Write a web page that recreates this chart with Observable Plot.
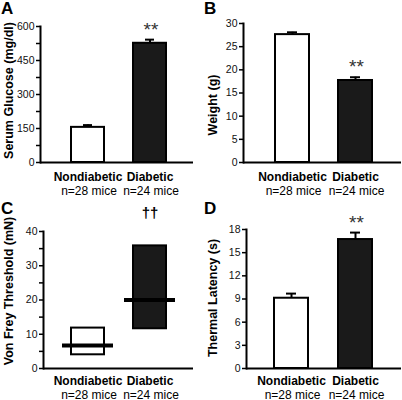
<!DOCTYPE html>
<html><head><meta charset="utf-8">
<script src="https://cdn.jsdelivr.net/npm/d3@7"></script>
<script src="https://cdn.jsdelivr.net/npm/@observablehq/plot@0.6"></script>
<style>
body{margin:0;background:#fff;}
#root{position:relative;width:402px;height:400px;font-family:"Liberation Sans",Arial,sans-serif;overflow:hidden;}
.panel{position:absolute;}
.letter{position:absolute;font-weight:bold;font-size:17px;line-height:17px;color:#000;}
</style></head><body><div id="root"></div>
<script>
// ---- data ----
const groups = ["Nondiabetic", "Diabetic"];
const groupN = ["n=28 mice", "n=24 mice"];
const glucoseMean = [155, 526];
const glucoseSem = [10, 16];
const glucoseSig = ["", "**"];
const weightMean = [27.6, 17.7];
const weightSem = [0.5, 0.7];
const weightSig = ["", "**"];
const vonFreyLow = [4.0, 11.6];
const vonFreyHigh = [11.8, 35.8];
const vonFreyMedian = [6.7, 20.0];
const vonFreySig = ["", "††"];
const latencyMean = [9.1, 16.7];
const latencySem = [0.6, 0.9];
const latencySig = ["", "**"];
const ticksA = [0, 150, 300, 450, 600];
const minorA = [75, 225, 375, 525];
const ticksB = [0, 5, 10, 15, 20, 25, 30];
const ticksC = [0, 10, 20, 30, 40];
const minorC = [5, 15, 25, 35];
const ticksD = [0, 3, 6, 9, 12, 15, 18];

const FONT = "Liberation Sans, Arial, sans-serif";
const fills = ["#ffffff", "#1a1a1a"];
const root = document.getElementById("root");

function barRows(mean, sem, sig) {
  return groups.map((g, i) => ({g, n: groupN[i], v: mean[i], top: mean[i] + sem[i], sig: sig[i], fill: fills[i]}));
}
function boxRows(lo, hi, med, sig) {
  return groups.map((g, i) => ({g, n: groupN[i], lo: lo[i], hi: hi[i], med: med[i], sig: sig[i], fill: fills[i]}));
}

function makePanel(o) {
  const marks = [
    Plot.axisY(o.major, {tickSize: 4, tickPadding: 2, fontSize: 10.5, strokeWidth: 1.5, label: null, fill: "#111"}),
  ];
  if (o.minor) marks.push(Plot.axisY(o.minor, {tickSize: 4, strokeWidth: 1.5, tickFormat: () => "", label: null}));
  marks.push(...o.marks);
  marks.push(
    Plot.frame({anchor: "left", strokeWidth: 2}),
    Plot.ruleY([0], {strokeWidth: 2}),
    Plot.text(o.rows, {x: "g", text: "g", frameAnchor: "bottom", lineAnchor: "bottom", dy: o.d1, fontWeight: "bold", fontSize: 12, fill: "#000"}),
    Plot.text(o.rows, {x: "g", text: "n", frameAnchor: "bottom", lineAnchor: "bottom", dy: o.d2, dx: 1, fontSize: 12, fill: "#000"}),
    Plot.text([o.title], {frameAnchor: "left", textAnchor: "middle", lineAnchor: "middle", rotate: -90, dx: o.tdx, dy: o.tdy, fontWeight: "bold", fontSize: 12.5, fill: "#000"})
  );
  const svg = Plot.plot({
    width: o.w, height: o.h,
    marginLeft: o.ml, marginRight: o.mr, marginTop: o.mt, marginBottom: o.mb,
    style: {fontFamily: FONT, background: "transparent", overflow: "visible"},
    x: {domain: groups, range: o.xr, paddingInner: 0.464, paddingOuter: 0, axis: null},
    y: {domain: o.yDomain, axis: null},
    marks
  });
  const div = document.createElement("div");
  div.className = "panel";
  div.style.left = o.left + "px";
  div.style.top = o.top + "px";
  div.appendChild(svg);
  root.appendChild(div);
  const L = document.createElement("div");
  L.className = "letter";
  L.textContent = o.letter;
  L.style.left = (o.left + o.lx) + "px";
  L.style.top = (o.top + o.ly) + "px";
  root.appendChild(L);
}

function barMarks(rows) {
  return [
    Plot.ruleX(rows, {x: "g", y1: "v", y2: "top", strokeWidth: 2}),
    Plot.tickY(rows, {x: "g", y: "top", strokeWidth: 2, insetLeft: 12, insetRight: 12}),
    Plot.barY(rows, {x: "g", y: "v", fill: "fill", stroke: "#000", strokeWidth: 2, inset: 0}),
    Plot.text(rows, {x: "g", y: "top", text: "sig", lineAnchor: "bottom", dy: -4, fontSize: 19, fill: "#333", letterSpacing: "2px", dx: 1})
  ];
}

// Panel A
const rowsA = barRows(glucoseMean, glucoseSem, glucoseSig);
makePanel({letter: "A", lx: 1, ly: 0, left: 0, top: 0, w: 201, h: 200, ml: 40, mr: 8, mt: 26, mb: 38,
  xr: [71, 167], yDomain: [0, 600], major: ticksA, minor: minorA, rows: rowsA, d1: 18, d2: 32,
  title: "Serum Glucose (mg/dl)", tdx: -32, tdy: -4, marks: barMarks(rowsA)});

// Panel B
const rowsB = barRows(weightMean, weightSem, weightSig);
makePanel({letter: "B", lx: 3, ly: 0, left: 201, top: 0, w: 201, h: 200, ml: 42, mr: 1, mt: 23, mb: 38,
  xr: [73, 171], yDomain: [0, 30], major: ticksB, rows: rowsB, d1: 18, d2: 32,
  title: "Weight (g)", tdx: -31, tdy: 12, marks: barMarks(rowsB)});

// Panel C
const rowsC = boxRows(vonFreyLow, vonFreyHigh, vonFreyMedian, vonFreySig);
makePanel({letter: "C", lx: 1, ly: 0, left: 0, top: 200, w: 201, h: 200, ml: 43, mr: 8, mt: 31, mb: 32, d1: 16, d2: 30,
  xr: [71, 167], yDomain: [0, 40], major: ticksC, minor: minorC, rows: rowsC,
  title: "Von Frey Threshold (mN)", tdx: -35, tdy: -9, marks: [
    Plot.barY(rowsC, {x: "g", y1: "lo", y2: "hi", fill: "fill", stroke: "#000", strokeWidth: 2, inset: 0}),
    Plot.tickY(rowsC, {x: "g", y: "med", strokeWidth: 4, insetLeft: -9, insetRight: -9}),
    Plot.text(rowsC, {x: "g", y: "hi", text: "sig", lineAnchor: "bottom", dy: -28, fontSize: 15, fontWeight: "bold", fill: "#000"})
  ]});

// Panel D
const rowsD = barRows(latencyMean, latencySem, latencySig);
makePanel({letter: "D", lx: 3, ly: 0, left: 201, top: 200, w: 201, h: 200, ml: 45, mr: 1, mt: 29, mb: 32, d1: 16, d2: 30,
  xr: [73, 172], yDomain: [0, 18], major: ticksD, rows: rowsD,
  title: "Thermal Latency (s)", tdx: -34, tdy: -1, marks: barMarks(rowsD)});
</script></body></html>
